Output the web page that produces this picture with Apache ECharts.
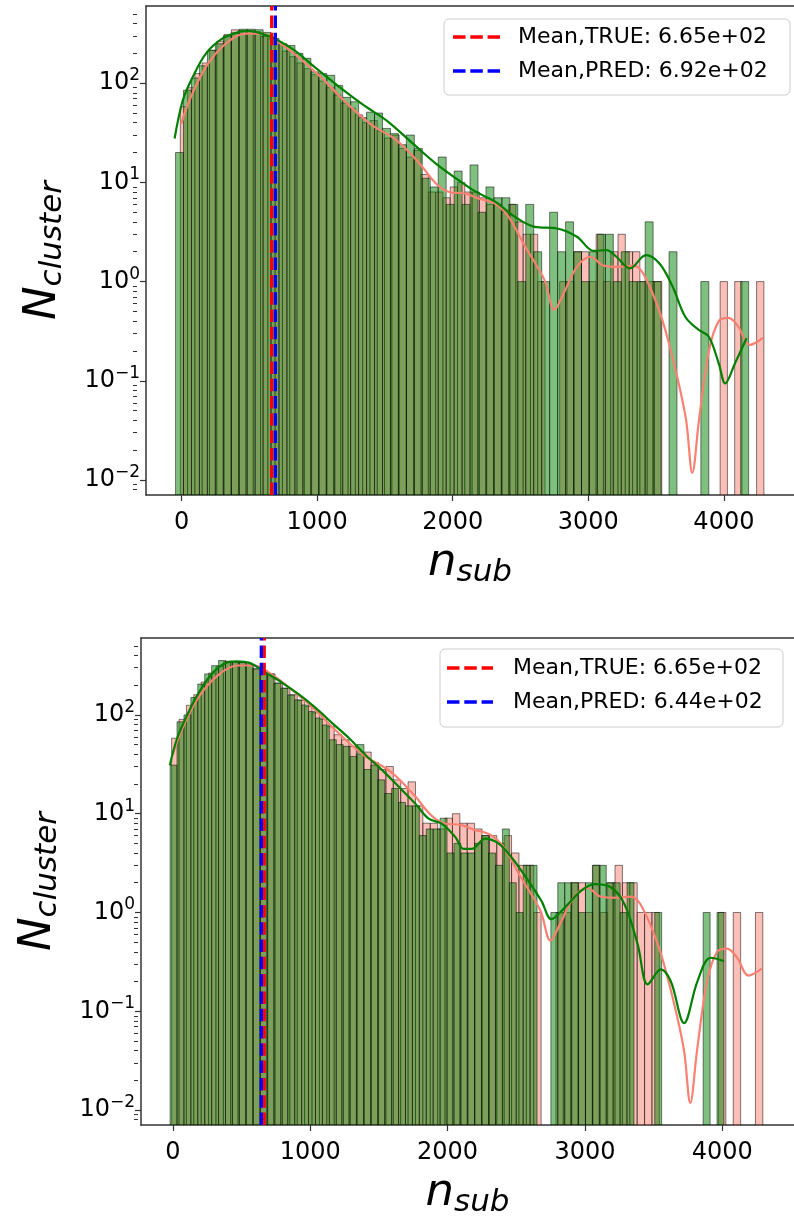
<!DOCTYPE html>
<html>
<head>
<meta charset="utf-8">
<script src="https://cdn.jsdelivr.net/npm/echarts@6/dist/echarts.min.js"></script>
<style>
  html, body { margin: 0; padding: 0; background: #fff; }
  #chart { width: 794px; height: 1219px; }
</style>
</head>
<body>
<div id="chart"></div>
<script>
// ---- TRUE sample (identical in both panels): histogram bins and KDE ----
const trueBinStart = -9;
const trueBinWidth = 53.8;
const trueCounts = [
  58, 90, 125, 160, 215, 265, 310, 345, 340, 340,
  330, 295, 280, 260, 210, 185, 160, 140, 122, 105,
  90, 76, 63, 56, 48, 40, 42, 33, 28, 30,
  22, 18, 21, 12, 8, 8, 7, 9, 10, 8,
  8, 7, 6, 6, 5, 6, 4, 3, 3, 1,
  0, 0, 1, 1, 2, 2, 1, 3, 1, 2,
  3, 2, 2, 1, 1, 1, 0, 0, 0, 0,
  0, 0, 0, 0, 1, 0, 1, 0, 0, 1
];
const trueKdeX = [-2, 58, 180, 325, 471, 591, 713, 858, 1028, 1198, 1391, 1585, 1755, 1876, 1973, 2095,
  2189, 2313, 2407, 2531, 2676, 2749, 2822, 2916, 3016, 3113, 3234, 3331, 3404, 3525, 3622, 3719,
  3767, 3816, 3889, 3962, 4034, 4107, 4191, 4288];
const trueKdeY = [39, 67, 146, 250, 316, 316, 260, 184, 115, 67, 39, 26.6, 15.5, 9.75, 8.0, 7.7,
  6.9, 6.1, 4.6, 2.3, 1.04, 0.52, 0.78, 1.41, 1.78, 1.45, 1.41, 1.45, 1.21, 0.5, 0.17, 0.042,
  0.0118, 0.04, 0.2, 0.4, 0.43, 0.35, 0.23, 0.27];

// ---- PRED sample, upper panel ----
const predTopBinStart = -44;
const predTopBinWidth = 58.7;
const predTopCounts = [
  20, 85, 113, 150, 214, 250, 301, 322, 350, 350,
  346, 325, 282, 250, 240, 200, 178, 130, 125, 120,
  95, 72, 65, 45, 51, 50, 35, 31, 24, 30,
  22, 11, 9, 18, 6, 13, 6, 15, 5, 9,
  7, 7, 6, 1, 6, 2, 1, 5, 2, 4,
  2, 1, 2, 3, 3, 1, 2, 1, 1, 4,
  1, 0, 2, 0, 0, 0, 1, 0, 0, 0,
  0, 1
];
const predTopKdeX = [-51, 9, 82, 180, 300, 422, 495, 591, 713, 834, 980, 1149, 1343, 1513, 1707, 1876,
  2095, 2189, 2313, 2458, 2604, 2771, 2916, 3040, 3135, 3207, 3307, 3425, 3525, 3622, 3716, 3816,
  3889, 3962, 4010, 4082, 4167];
const predTopKdeY = [27.7, 67, 115, 199, 281, 328, 336, 316, 270, 214, 146, 95, 60, 42, 24.6, 15.5,
  9.4, 7.8, 6.4, 4.5, 3.56, 3.43, 2.83, 2.04, 2.08, 1.78, 1.36, 1.85, 1.52, 0.89, 0.44, 0.325,
  0.278, 0.15, 0.094, 0.15, 0.268];

// ---- PRED sample, lower panel ----
const predBotBinStart = -20;
const predBotBinWidth = 50.4;
const predBotCounts = [
  31, 85, 100, 150, 205, 260, 315, 355, 350, 345,
  340, 320, 290, 280, 260, 209, 187, 159, 142, 126,
  108, 93, 79, 56, 50, 48, 38, 50, 28, 31,
  22, 16, 18, 13, 12, 12, 6, 7, 7, 9,
  4, 5, 4, 4, 5, 6, 4, 3, 7, 2,
  1, 3, 3, 0, 0, 1, 2, 2, 2, 1,
  2, 3, 3, 2, 2, 1, 2, 0, 0, 0,
  1, 0, 0, 0, 0, 0, 0, 1, 0, 1
];
const predBotKdeX = [-22, 27, 99, 172, 268, 364, 462, 558, 679, 799, 920, 1041, 1162, 1283, 1404, 1524,
  1645, 1766, 1862, 1959, 2056, 2116, 2176, 2273, 2370, 2466, 2587, 2683, 2756, 2853, 2973, 3070,
  3191, 3288, 3384, 3457, 3553, 3625, 3722, 3819, 3915, 4012];
const predBotKdeY = [31, 55.7, 96, 153, 245, 323, 349, 336, 266, 210, 160, 117, 82, 58, 39, 27.6,
  18.7, 12.6, 8.9, 7.9, 5.8, 4.4, 4.4, 5.6, 5.0, 3.6, 2.1, 1.31, 0.855, 1.12, 1.66, 1.94,
  1.79, 1.21, 0.476, 0.187, 0.265, 0.201, 0.076, 0.201, 0.348, 0.322];

// ---- means ----
const meanTrue = 665;
const meanPredTop = 692;
const meanPredBot = 644;

// ---- axis ticks ----
const xTicks = [0, 1000, 2000, 3000, 4000];
const yMajor = [0.01, 0.1, 1, 10, 100];

// ---- axis ranges ----
const topX = [-262, 4517], topY = [0.00706, 600];
const botX = [-232, 4522], botY = [0.00706, 600];

const FONT = 'DejaVu Sans';
const PINK = 'rgba(250,128,114,0.5)';
const GREEN = 'rgba(0,128,0,0.5)';
const DASH = [12.5, 4.8];

const GRIDS = [
  { left: 146, top: 6, width: 657, height: 489 },
  { left: 141, top: 638, width: 656, height: 490 }
];

function sci(v) {
  const [m, e] = v.toExponential(2).split('e');
  const n = parseInt(e, 10);
  return m + 'e' + (n < 0 ? '-' : '+') + String(Math.abs(n)).padStart(2, '0');
}

function yMinor(min, max) {
  const out = [];
  for (let e = -3; e <= 3; e++) {
    for (let m = 2; m <= 9; m++) {
      const v = m * Math.pow(10, e);
      if (v > min && v < max) out.push(v);
    }
  }
  return out;
}

function supLabel(v) {
  const e = Math.round(Math.log10(v));
  return '{b|10}{s|' + (e < 0 ? '\u2212' + (-e) : e) + '}';
}

function histSeries(name, start, width, counts, color, xi, yi, yFloor) {
  const data = [];
  counts.forEach((c, i) => {
    if (c > 0) data.push([start + i * width, start + (i + 1) * width, c]);
  });
  return {
    type: 'custom', name, xAxisIndex: xi, yAxisIndex: yi, silent: true, clip: true,
    data, encode: { x: [0, 1], y: 2 },
    renderItem(params, api) {
      const p0 = api.coord([api.value(0), api.value(2)]);
      const p1 = api.coord([api.value(1), yFloor]);
      return {
        type: 'rect',
        shape: { x: p0[0], y: p0[1], width: p1[0] - p0[0], height: p1[1] - p0[1] },
        style: { fill: color, stroke: 'rgba(0,0,0,0.5)', lineWidth: 1 }
      };
    }
  };
}

function kdeSeries(xs, ys, color, xi, yi) {
  return {
    type: 'line', xAxisIndex: xi, yAxisIndex: yi, silent: true,
    data: xs.map((x, i) => [x, ys[i]]),
    smooth: 0.35, showSymbol: false, symbol: 'none',
    lineStyle: { color, width: 2.2 }, z: 3
  };
}

function meanSeries(name, x, color, xi, yi, yr) {
  return {
    type: 'line', name, xAxisIndex: xi, yAxisIndex: yi, silent: true,
    data: [[x, yr[0]], [x, yr[1]]],
    symbol: 'none', showSymbol: false, color,
    lineStyle: { color, width: 3.3, type: DASH }, z: 4
  };
}

function xAxes(gi, range) {
  return [{
    type: 'value', gridIndex: gi, min: range[0], max: range[1],
    axisLine: { show: true, onZero: false, lineStyle: { color: '#333', width: 1.5 } },
    axisTick: { show: true, length: 6, customValues: xTicks, lineStyle: { color: '#333', width: 1.2 } },
    axisLabel: { customValues: xTicks, formatter: v => String(v), fontSize: 24, fontFamily: FONT, color: '#000', margin: 16 },
    splitLine: { show: false },
    name: '{n|n}{s|sub}', nameLocation: 'middle', nameGap: 43,
    nameTextStyle: {
      rich: {
        n: { fontSize: 45, fontFamily: FONT, fontStyle: 'italic', color: '#000', lineHeight: 50 },
        s: { fontSize: 31, fontFamily: FONT, fontStyle: 'italic', color: '#000', lineHeight: 30, verticalAlign: 'bottom' }
      }
    }
  }, {
    type: 'value', gridIndex: gi, min: range[0], max: range[1], position: 'top',
    axisLine: { show: true, onZero: false, lineStyle: { color: '#333', width: 1.5 } },
    axisTick: { show: false }, axisLabel: { show: false }, splitLine: { show: false }
  }];
}

function yAxes(gi, range) {
  return [{
    type: 'log', logBase: 10, gridIndex: gi, min: range[0], max: range[1], position: 'left',
    axisLine: { show: true, onZero: false, lineStyle: { color: '#333', width: 1.5 } },
    axisTick: { show: true, length: 6, customValues: yMajor, lineStyle: { color: '#333', width: 1.2 } },
    axisLabel: {
      customValues: yMajor, formatter: supLabel, margin: 6,
      rich: {
        b: { fontSize: 24, fontFamily: FONT, color: '#000', lineHeight: 32 },
        s: { fontSize: 17, fontFamily: FONT, color: '#000', lineHeight: 18, verticalAlign: 'top' }
      }
    },
    splitLine: { show: false },
    name: '{n|N}{s|cluster}', nameLocation: 'middle', nameGap: 78, nameRotate: 90,
    nameTextStyle: {
      rich: {
        n: { fontSize: 45, fontFamily: FONT, fontStyle: 'italic', color: '#000', lineHeight: 50 },
        s: { fontSize: 31, fontFamily: FONT, fontStyle: 'italic', color: '#000', lineHeight: 30, verticalAlign: 'bottom' }
      }
    }
  }, {
    // minor ticks at 2..9 x 10^k, carried by a second axis moved onto the left spine
    type: 'log', logBase: 10, gridIndex: gi, min: range[0], max: range[1],
    position: 'right', offset: -GRIDS[gi].width,
    axisLine: { show: false, onZero: false },
    axisTick: { show: true, inside: true, length: 4, customValues: yMinor(range[0], range[1]), lineStyle: { color: '#333', width: 1 } },
    axisLabel: { show: false }, splitLine: { show: false }
  }];
}

// legend box: dashed swatches with their labels
function legendGraphic(box, lineX, textX, rows) {
  const children = [{
    type: 'rect', shape: { x: box[0], y: box[1], width: box[2], height: box[3], r: 5 },
    style: { fill: 'rgba(255,255,255,0.8)', stroke: '#cccccc', lineWidth: 1 }
  }];
  rows.forEach(r => {
    children.push({
      type: 'line', shape: { x1: lineX[0], y1: r.y, x2: lineX[1], y2: r.y },
      style: { stroke: r.color, lineWidth: 3.3, lineDash: DASH }
    });
    children.push({
      type: 'text', x: textX, y: r.y,
      style: { text: r.text, font: '22px "DejaVu Sans"', fill: '#000', textVerticalAlign: 'middle', verticalAlign: 'middle' }
    });
  });
  return { type: 'group', z: 100, children };
}

const nameTrue = 'Mean,TRUE: ' + sci(meanTrue);
const namePredTop = 'Mean,PRED: ' + sci(meanPredTop);
const namePredBot = 'Mean,PRED: ' + sci(meanPredBot);

const chart = echarts.init(document.getElementById('chart'), null, { renderer: 'canvas' });
chart.setOption({
  animation: false,
  backgroundColor: '#fff',
  grid: GRIDS,
  xAxis: [...xAxes(0, topX), ...xAxes(1, botX)],
  yAxis: [...yAxes(0, topY), ...yAxes(1, botY)],
  graphic: [
    legendGraphic([444, 19, 346, 76], [453, 500], 518, [
      { y: 37, color: '#ff0000', text: nameTrue },
      { y: 71, color: '#0000ff', text: namePredTop }
    ]),
    legendGraphic([440, 649, 343, 78], [447, 493], 513, [
      { y: 668, color: '#ff0000', text: nameTrue },
      { y: 702, color: '#0000ff', text: namePredBot }
    ])
  ],
  series: [
    // upper panel
    histSeries('TRUE', trueBinStart, trueBinWidth, trueCounts, PINK, 0, 0, topY[0]),
    histSeries('PRED', predTopBinStart, predTopBinWidth, predTopCounts, GREEN, 0, 0, topY[0]),
    kdeSeries(trueKdeX, trueKdeY, '#fa8072', 0, 0),
    kdeSeries(predTopKdeX, predTopKdeY, '#008000', 0, 0),
    meanSeries(nameTrue, meanTrue, '#ff0000', 0, 0, topY),
    meanSeries(namePredTop, meanPredTop, '#0000ff', 0, 0, topY),
    // lower panel
    histSeries('TRUE', trueBinStart, trueBinWidth, trueCounts, PINK, 2, 2, botY[0]),
    histSeries('PRED', predBotBinStart, predBotBinWidth, predBotCounts, GREEN, 2, 2, botY[0]),
    kdeSeries(trueKdeX, trueKdeY, '#fa8072', 2, 2),
    kdeSeries(predBotKdeX, predBotKdeY, '#008000', 2, 2),
    meanSeries(nameTrue, meanTrue, '#ff0000', 2, 2, botY),
    meanSeries(namePredBot, meanPredBot, '#0000ff', 2, 2, botY)
  ]
});
</script>
</body>
</html>
